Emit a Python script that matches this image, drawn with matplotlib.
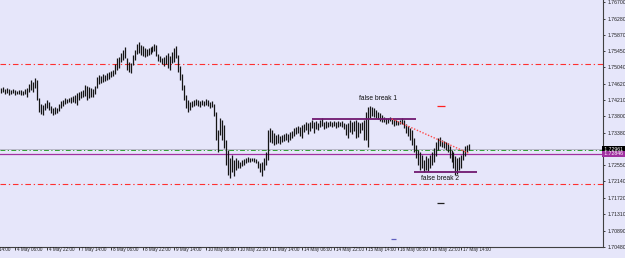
import numpy as np
import matplotlib
matplotlib.use("Agg")
import matplotlib.pyplot as plt

## H1 bars, first visible bar index
first_bar = 9

highs = [1.7451, 1.7454, 1.7449, 1.7451, 1.7449, 1.7446, 1.7449, 1.7446, 1.7444, 1.7446,
         1.7446, 1.7444, 1.7449, 1.7451, 1.7462, 1.7472, 1.7467, 1.7477, 1.7472, 1.7426,
         1.7411, 1.7408, 1.7413, 1.7421, 1.7416, 1.7406, 1.7401, 1.7403, 1.7401, 1.7411,
         1.7418, 1.7421, 1.7426, 1.7423, 1.7426, 1.7429, 1.7431, 1.7434, 1.7439, 1.7441,
         1.7444, 1.7446, 1.7459, 1.7457, 1.7454, 1.7451, 1.7449, 1.7457, 1.7479, 1.7485,
         1.7482, 1.7487, 1.7485, 1.7490, 1.7492, 1.7495, 1.7497, 1.7512, 1.7528, 1.7530,
         1.7540, 1.7548, 1.7556, 1.7528, 1.7518, 1.7515, 1.7535, 1.7548, 1.7563, 1.7568,
         1.7561, 1.7558, 1.7553, 1.7550, 1.7553, 1.7556, 1.7558, 1.7563, 1.7561, 1.7538,
         1.7533, 1.7528, 1.7530, 1.7535, 1.7540, 1.7533, 1.7543, 1.7553, 1.7558, 1.7535,
         1.7507, 1.7487, 1.7459, 1.7434, 1.7421, 1.7416, 1.7418, 1.7421, 1.7423, 1.7421,
         1.7418, 1.7421, 1.7418, 1.7423, 1.7421, 1.7416, 1.7418, 1.7411, 1.7391, 1.7345,
         1.7375, 1.7370, 1.7358, 1.7319, 1.7294, 1.7274, 1.7281, 1.7269, 1.7274, 1.7269,
         1.7264, 1.7269, 1.7271, 1.7274, 1.7276, 1.7274, 1.7274, 1.7274, 1.7271, 1.7266,
         1.7261, 1.7264, 1.7274, 1.7289, 1.7345, 1.7350, 1.7345, 1.7337, 1.7332, 1.7335,
         1.7330, 1.7332, 1.7335, 1.7337, 1.7335, 1.7340, 1.7342, 1.7350, 1.7352, 1.7355,
         1.7352, 1.7358, 1.7360, 1.7365, 1.7363, 1.7365, 1.7370, 1.7365, 1.7368, 1.7363,
         1.7370, 1.7375, 1.7365, 1.7368, 1.7365, 1.7368, 1.7365, 1.7368, 1.7365, 1.7368,
         1.7365, 1.7368, 1.7363, 1.7360, 1.7363, 1.7370, 1.7365, 1.7368, 1.7370, 1.7365,
         1.7363, 1.7365, 1.7370, 1.7391, 1.7403, 1.7406, 1.7403, 1.7401, 1.7396, 1.7391,
         1.7388, 1.7383, 1.7378, 1.7375, 1.7375, 1.7378, 1.7375, 1.7373, 1.7370, 1.7368,
         1.7370, 1.7375, 1.7370, 1.7360, 1.7355, 1.7350, 1.7345, 1.7324, 1.7307, 1.7294,
         1.7289, 1.7281, 1.7269, 1.7279, 1.7274, 1.7281, 1.7289, 1.7299, 1.7314, 1.7324,
         1.7327, 1.7319, 1.7317, 1.7314, 1.7312, 1.7304, 1.7294, 1.7289, 1.7279, 1.7274,
         1.7276, 1.7281, 1.7294, 1.7304, 1.7307, 1.7309]

lows = [1.7439, 1.7441, 1.7436, 1.7439, 1.7434, 1.7436, 1.7439, 1.7434, 1.7436, 1.7436,
        1.7434, 1.7434, 1.7436, 1.7429, 1.7441, 1.7446, 1.7441, 1.7451, 1.7421, 1.7391,
        1.7385, 1.7383, 1.7396, 1.7401, 1.7396, 1.7388, 1.7383, 1.7385, 1.7388, 1.7393,
        1.7401, 1.7406, 1.7411, 1.7413, 1.7416, 1.7413, 1.7416, 1.7413, 1.7408, 1.7421,
        1.7426, 1.7429, 1.7431, 1.7421, 1.7426, 1.7429, 1.7429, 1.7436, 1.7451, 1.7462,
        1.7464, 1.7467, 1.7469, 1.7472, 1.7474, 1.7479, 1.7482, 1.7487, 1.7497, 1.7502,
        1.7518, 1.7523, 1.7528, 1.7497, 1.7492, 1.7490, 1.7510, 1.7523, 1.7538, 1.7540,
        1.7535, 1.7533, 1.7530, 1.7533, 1.7535, 1.7538, 1.7543, 1.7545, 1.7533, 1.7520,
        1.7518, 1.7512, 1.7507, 1.7512, 1.7502, 1.7497, 1.7515, 1.7518, 1.7528, 1.7492,
        1.7472, 1.7446, 1.7421, 1.7401, 1.7391, 1.7396, 1.7403, 1.7406, 1.7408, 1.7406,
        1.7403, 1.7408, 1.7406, 1.7408, 1.7406, 1.7401, 1.7403, 1.7380, 1.7319, 1.7289,
        1.7332, 1.7319, 1.7299, 1.7256, 1.7231, 1.7223, 1.7238, 1.7228, 1.7243, 1.7248,
        1.7248, 1.7253, 1.7256, 1.7261, 1.7264, 1.7264, 1.7266, 1.7264, 1.7261, 1.7248,
        1.7238, 1.7228, 1.7243, 1.7256, 1.7269, 1.7314, 1.7312, 1.7307, 1.7309, 1.7312,
        1.7309, 1.7314, 1.7317, 1.7319, 1.7314, 1.7319, 1.7324, 1.7330, 1.7335, 1.7337,
        1.7330, 1.7324, 1.7340, 1.7345, 1.7335, 1.7342, 1.7350, 1.7337, 1.7347, 1.7345,
        1.7352, 1.7355, 1.7347, 1.7350, 1.7352, 1.7355, 1.7352, 1.7355, 1.7350, 1.7352,
        1.7355, 1.7352, 1.7347, 1.7332, 1.7324, 1.7340, 1.7335, 1.7342, 1.7324, 1.7327,
        1.7337, 1.7345, 1.7319, 1.7319, 1.7302, 1.7375, 1.7380, 1.7378, 1.7375, 1.7373,
        1.7368, 1.7365, 1.7365, 1.7360, 1.7363, 1.7368, 1.7360, 1.7355, 1.7358, 1.7358,
        1.7360, 1.7360, 1.7350, 1.7337, 1.7330, 1.7319, 1.7307, 1.7289, 1.7274, 1.7256,
        1.7243, 1.7248, 1.7238, 1.7243, 1.7241, 1.7248, 1.7256, 1.7264, 1.7279, 1.7294,
        1.7304, 1.7302, 1.7299, 1.7294, 1.7289, 1.7274, 1.7264, 1.7248, 1.7231, 1.7233,
        1.7243, 1.7248, 1.7269, 1.7279, 1.7289, 1.7294]

## time axis labels, one every 16 bars
date_labels = ["3 May 14:00", "4 May 06:00", "4 May 22:00", "7 May 14:00", "8 May 06:00",
               "8 May 22:00", "9 May 14:00", "10 May 06:00", "10 May 22:00", "11 May 14:00",
               "14 May 06:00", "14 May 22:00", "15 May 14:00", "16 May 06:00", "16 May 22:00",
               "17 May 14:00"]

price_ticks = [1.76700, 1.76280, 1.75870, 1.75450, 1.75040, 1.74620, 1.74210, 1.73800,
               1.73380, 1.72550, 1.72140, 1.71720, 1.71310, 1.70890, 1.70480]

## levels
red_levels = [1.7512, 1.7208]
bid_price = 1.72961
green_level = 1.7293
purple_level = 1.72846
resist_level, resist_span = 1.7373, (165, 217)
support_level, support_span = 1.7238, (216, 248)
trend_pts = ([205, 243.5], [1.7373, 1.7286])

bg = "#e6e6fa"
fig = plt.figure(figsize=(6.25, 2.58), dpi=100, facecolor=bg)
ax = fig.add_axes([0, 11 / 258, 603 / 625, 1 - 11 / 258], facecolor=bg)

idx = np.arange(first_bar, first_bar + len(highs))
ax.vlines(idx, lows, highs, color="#151515", lw=0.9, zorder=3)

for lv in red_levels:
    ax.axhline(lv, color="#ff3030", lw=0.8, dashes=(5, 2.5, 1.2, 2.5), zorder=2)
ax.axhline(bid_price, color="#b8b8c8", lw=0.7, zorder=2)
ax.axhline(green_level, color="#30a030", lw=0.7, dashes=(5, 2.5, 1.2, 2.5), zorder=2)
ax.axhline(purple_level, color="#a030a0", lw=0.9, zorder=2)

ax.hlines(resist_level, *resist_span, color="#701870", lw=1.3, zorder=4)
ax.hlines(support_level, *support_span, color="#701870", lw=1.3, zorder=4)
ax.plot(trend_pts[0], trend_pts[1], color="#ff4a4a", lw=1.0, ls=(0, (1, 1.2)), zorder=5)

# small day markers
ax.hlines(1.7406, 227.5, 231.5, color="#ff2020", lw=0.9)
ax.hlines(1.7159, 227.5, 231, color="#202020", lw=0.9)
ax.hlines(1.7068, 204.5, 207, color="#6060c0", lw=0.9)

ax.text(198, 1.7424, "false break 1", fontsize=4.8, family="Liberation Sans",
        ha="center", va="center", color="#101010")
ax.text(229, 1.7222, "false break 2", fontsize=4.8, family="Liberation Sans",
        ha="center", va="center", color="#101010")

for s in ["left", "top"]:
    ax.spines[s].set_visible(False)
for s in ["right", "bottom"]:
    ax.spines[s].set_color("#404040")
    ax.spines[s].set_linewidth(0.8)

ax.yaxis.tick_right()
ax.set_yticks(price_ticks)
ax.set_yticklabels(["%.5f" % p for p in price_ticks], fontsize=3.7,
                   family="Liberation Sans", color="#202020")
ax.tick_params(axis="y", length=1.5, width=0.6, pad=2, colors="#202020")

ax.set_xticks([16 * k for k in range(len(date_labels))])
ax.set_xticklabels([])
ax.tick_params(axis="x", length=2.5, width=0.6, colors="#202020")

# limits after ticks, set_xticks widens the view
ax.set_xlim(8.5, 311)
ax.set_ylim(1.70476, 1.7675)

# first label is cut by the left edge, as in the terminal screenshot
for k, lab in enumerate(date_labels):
    ax.text(16 * k + 1, 1.70476, lab, fontsize=3.3, family="Liberation Sans",
            ha="left", va="top", color="#202020", clip_on=False)

# current price boxes
ax.text(1.0, bid_price, " 1.72961 ", transform=ax.get_yaxis_transform(), fontsize=3.7,
        family="Liberation Sans", color="white", va="center", ha="left",
        bbox=dict(boxstyle="square,pad=0.1", fc="black", ec="none"), clip_on=False)
ax.text(1.0, purple_level, " 1.72846 ", transform=ax.get_yaxis_transform(), fontsize=3.7,
        family="Liberation Sans", color="white", va="center", ha="left",
        bbox=dict(boxstyle="square,pad=0.1", fc="#a030a0", ec="none"), clip_on=False)

fig.savefig("out.png", dpi=100, facecolor=bg)
